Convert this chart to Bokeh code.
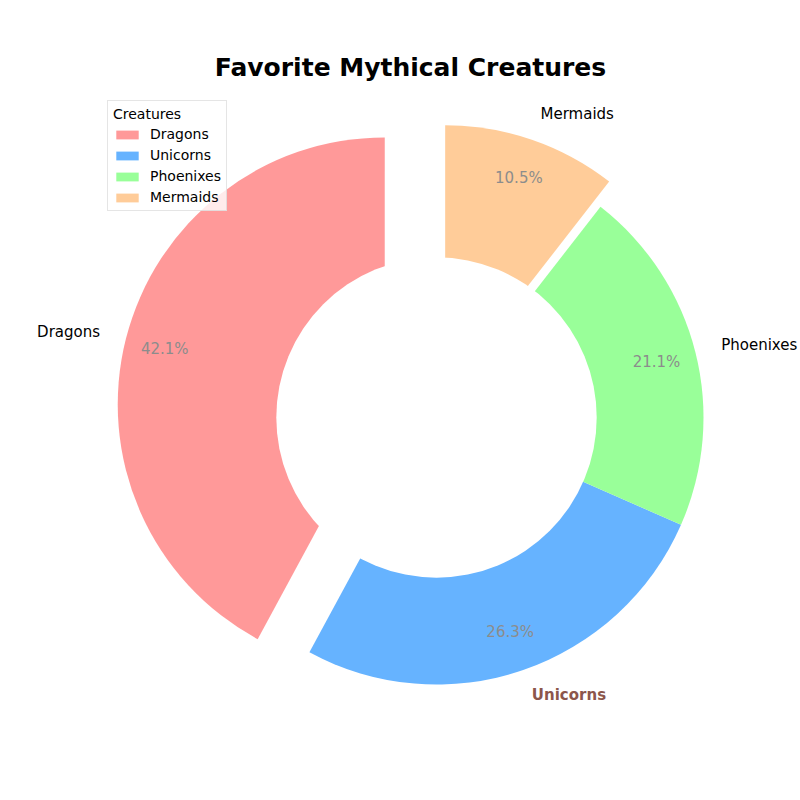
import math
from bokeh.plotting import figure
from bokeh.models import ColumnDataSource, Range1d, Label
from bokeh.embed import file_html
from bokeh.resources import INLINE

# ---- data ----
creatures = ["Dragons", "Unicorns", "Phoenixes", "Mermaids"]
votes = [8, 5, 4, 2]
colors = ["#ff9999", "#66b3ff", "#99ff99", "#ffcc99"]
explode = [0.2, 0.0, 0.0, 0.1]
label_colors = ["black", "#8c564b", "black", "black"]
label_styles = ["normal", "bold", "normal", "normal"]
title_text = "Favorite Mythical Creatures"
legend_title = "Creatures"

FONT = "DejaVu Sans"

# ---- geometry (pie radius = 1 data unit) ----
total = sum(votes)
start = math.pi / 2
rows = dict(name=[], cx=[], cy=[], start=[], end=[], color=[])
lab = dict(x=[], y=[], text=[], align=[], color=[], style=[])
pct = dict(x=[], y=[], text=[])
theta = start
for name, v, c, e, lc, ls in zip(creatures, votes, colors, explode, label_colors, label_styles):
    t1 = theta
    t2 = theta + 2 * math.pi * v / total
    mid = (t1 + t2) / 2
    cx, cy = e * math.cos(mid), e * math.sin(mid)
    rows["name"].append(name)
    rows["cx"].append(cx)
    rows["cy"].append(cy)
    rows["start"].append(t1)
    rows["end"].append(t2)
    rows["color"].append(c)
    lab["x"].append(cx + 1.1 * math.cos(mid))
    lab["y"].append(cy + 1.1 * math.sin(mid))
    lab["text"].append(name)
    lab["align"].append("left" if math.cos(mid) >= 0 else "right")
    lab["color"].append(lc)
    lab["style"].append(ls)
    pct["x"].append(cx + 0.85 * math.cos(mid))
    pct["y"].append(cy + 0.85 * math.sin(mid))
    pct["text"].append(f"{100 * v / total:.1f}%")
    theta = t2

PX = 267.0  # pixels per unit radius
CX, CY = 436.0, 417.0  # pie centre in pixels (from top-left)

p = figure(width=800, height=800, output_backend="svg", toolbar_location=None,
           x_range=Range1d(-CX / PX, (800 - CX) / PX),
           y_range=Range1d(-(800 - CY) / PX, CY / PX),
           min_border=0, outline_line_color=None)
p.axis.visible = False
p.grid.visible = False
p.background_fill_color = "white"
p.border_fill_color = "white"

src = ColumnDataSource(rows)
p.wedge(x="cx", y="cy", radius=1.0, start_angle="start", end_angle="end",
        direction="anticlock", fill_color="color", line_color=None,
        source=src, legend_field="name")

# donut hole
p.circle(x=[0], y=[0], radius=0.6, fill_color="white", line_color=None)

p.text(x="x", y="y", text="text", source=ColumnDataSource(lab),
       text_align="align", text_baseline="middle", text_color="color",
       text_font_style="style", text_font={"value": FONT}, text_font_size={"value": "15px"})
p.text(x="x", y="y", text="text", source=ColumnDataSource(pct),
       text_align="center", text_baseline="middle", text_color="#8c8c8c",
       text_font={"value": FONT}, text_font_size={"value": "15px"})

p.add_layout(Label(x=410, y=800 - 67, x_units="screen", y_units="screen",
                   text=title_text, text_align="center", text_baseline="middle",
                   text_font=FONT, text_font_size="25px", text_font_style="bold",
                   text_color="black"))

lg = p.legend[0]
lg.title = legend_title
lg.title_text_font = FONT
lg.title_text_font_size = "14px"
lg.title_text_font_style = "normal"
lg.title_text_color = "black"
lg.title_standoff = 4
lg.label_text_font = FONT
lg.label_text_font_size = "14px"
lg.label_text_color = "black"
lg.label_height = 14
lg.glyph_height = 11
lg.glyph_width = 28
lg.label_standoff = 9
lg.spacing = 5
lg.padding = 5
lg.margin = 0
lg.location = (107, 589)
lg.border_line_color = "#cccccc"
lg.background_fill_alpha = 0.8

open("out.html", "w").write(file_html(p, INLINE))
